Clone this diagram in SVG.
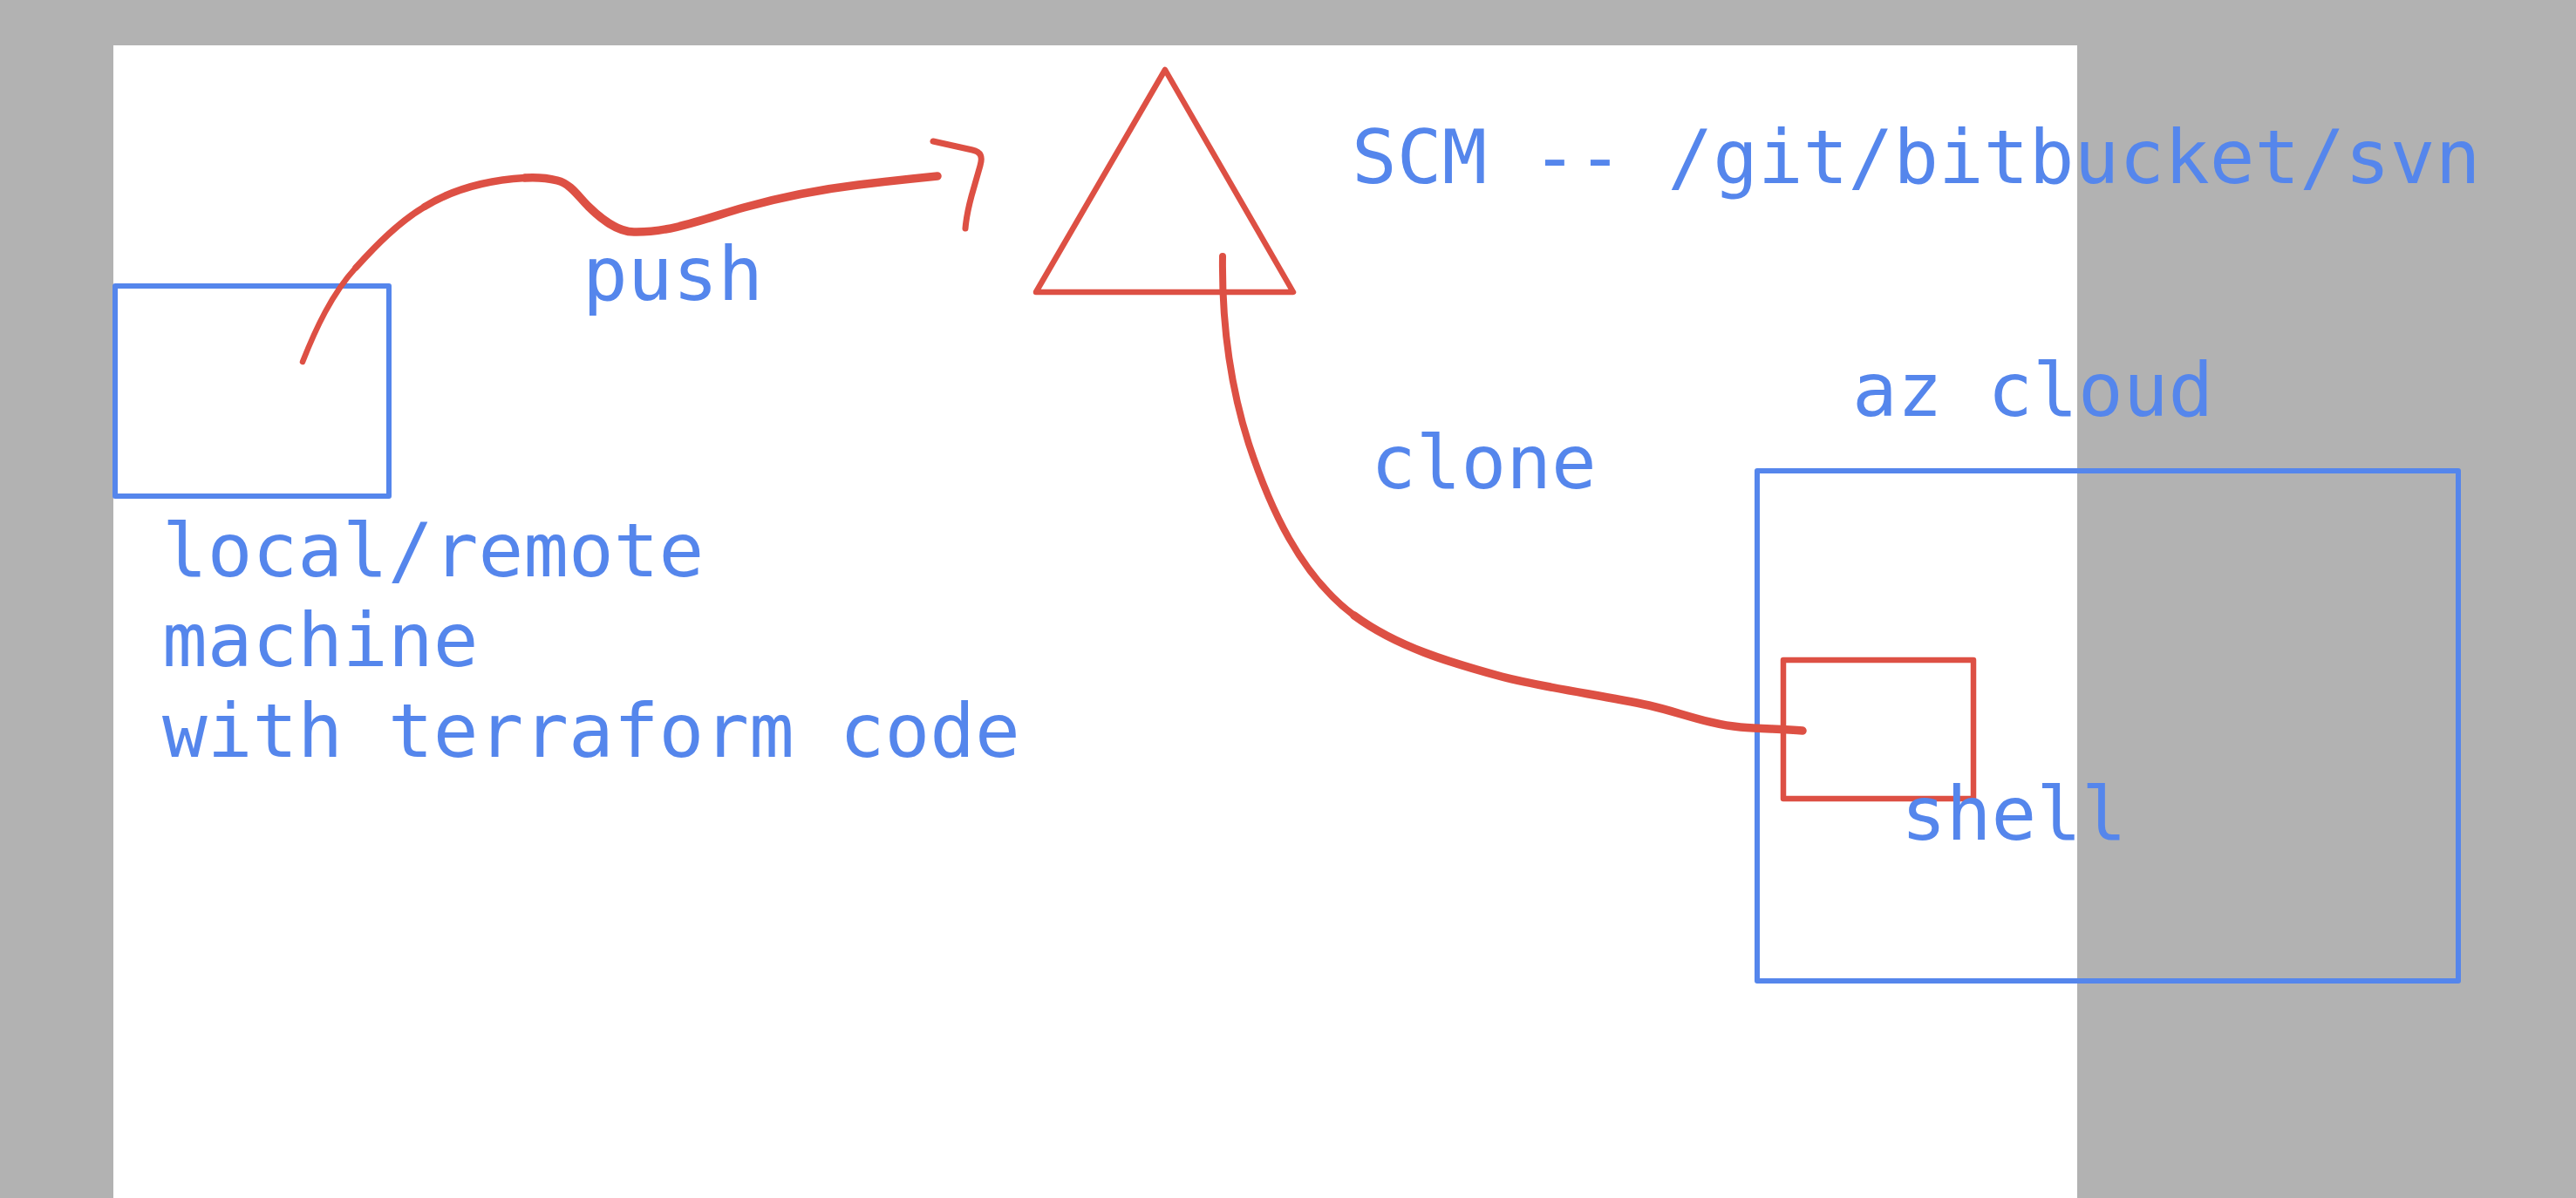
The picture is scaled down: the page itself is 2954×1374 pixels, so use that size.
<svg xmlns="http://www.w3.org/2000/svg" width="2954" height="1374" viewBox="0 0 2954 1374">
<style>
.lbl{font-family:"DejaVu Sans Mono","Liberation Mono",monospace;font-size:86px;fill:#5586ec}
.blue{fill:none;stroke:#5586ec;stroke-width:6;stroke-linejoin:round;stroke-linecap:round}
.red{fill:none;stroke:#dd5044;stroke-width:6.5;stroke-linejoin:round;stroke-linecap:round}
.ink{fill:none;stroke:#dd5044;stroke-linecap:round;stroke-linejoin:round}
</style>
<rect x="0" y="0" width="2954" height="1374" fill="#b2b2b2"/>
<rect x="130" y="52" width="2252" height="1322" fill="#ffffff"/>
<g id="local-machine">
<rect class="blue" x="132" y="328" width="314" height="241"/>
<text class="lbl" x="186" y="661">local/remote</text>
<text class="lbl" x="186" y="764">machine</text>
<text class="lbl" x="186" y="868">with terraform code</text>
</g>
<g id="scm">
<polygon class="red" points="1336,80 1483,335 1188,335"/>
<text class="lbl" x="1550" y="210">SCM -- /git/bitbucket/svn</text>
</g>
<g id="az-cloud">
<rect class="blue" x="2015" y="540" width="804" height="585"/>
<text class="lbl" x="2124" y="477">az cloud</text>
</g>
<g id="shell">
<rect class="red" x="2045" y="757" width="218" height="159"/>
<text class="lbl" x="2180" y="963">shell</text>
</g>
<g id="connectors">
<path class="ink" stroke-width="6.5" d="M347,415 C362,377 380.5,337 408,307"/>
<path class="ink" stroke-width="7.5" d="M408,307 C431.5,281 457,255 487,237"/>
<path class="ink" stroke-width="8.5" d="M487,237 C521,216 562,206.4 602,204"/>
<path class="ink" stroke-width="9.5" d="M602,204 C614,203.3 627.4,204.1 639,207 C654.5,210.8 663.5,225.8 675,237 C689.3,251 707,265.6 727,266 C770,266.9 811.7,249.6 853,238 C896,226 939.5,217.4 984,212 C1014,208.4 1045,205 1075,202"/>
<path class="ink" stroke-width="7" d="M1070,162 L1115,172 C1125,174 1127,180 1124,190 L1114,225 C1110,240 1108,250 1107,262"/>
<text class="lbl" x="668" y="344">push</text>
<path class="ink" stroke-width="8" d="M1402,294 C1401,366 1410,440 1432,509 C1456,582 1491,660 1553,706"/>
<path class="ink" stroke-width="9.5" d="M1553,706 C1602,742 1663,760 1722,776 C1777,790 1835,797 1891,809 C1926,817 1960,831 1996,834 C2020,836 2043,836 2067,838"/>
<text class="lbl" x="1572" y="560">clone</text>
</g>
</svg>
